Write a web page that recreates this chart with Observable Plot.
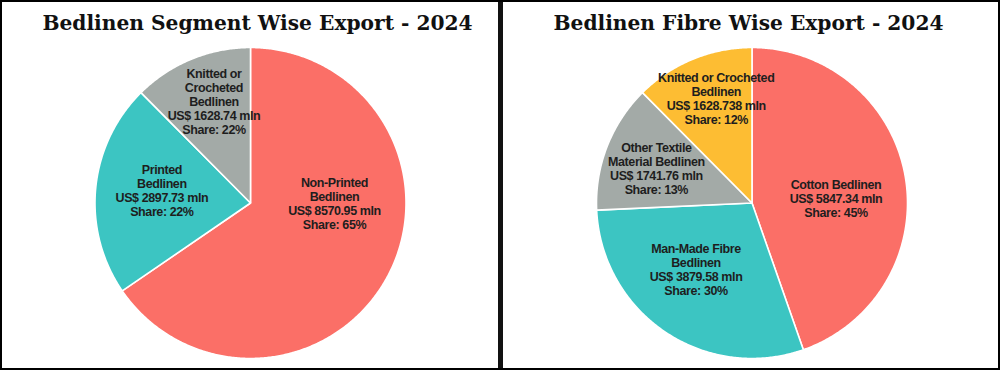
<!DOCTYPE html>
<html>
<head>
<meta charset="utf-8">
<script src="https://cdn.jsdelivr.net/npm/d3@7"></script>
<script src="https://cdn.jsdelivr.net/npm/@observablehq/plot@0.6"></script>
<style>
  html, body { margin: 0; padding: 0; background: #fff; }
  #wrap { position: relative; width: 1000px; height: 370px; box-sizing: border-box; border: 2px solid #000; overflow: hidden; background:#fff; }
  .panel { position: absolute; top: -2px; width: 498px; height: 370px; }
  .title { position: absolute; top: 11px; width: 498px; text-align: center; font-family: "DejaVu Serif", serif; font-weight: bold; font-size: 20.2px; color: #111; white-space: nowrap; }
  #divider { position: absolute; left: 496px; top: -2px; width: 5px; height: 372px; background: #111; }
</style>
</head>
<body>
<div id="wrap">
  <div class="panel" id="left" style="left:-2px"></div>
  <div class="panel" id="right" style="left:500px"></div>
  <div id="divider"></div>
</div>
<script>
// ---- data ----
const segmentTitle = "Bedlinen Segment Wise Export - 2024";
const segmentNames = ["Non-Printed\nBedlinen", "Printed\nBedlinen", "Knitted or\nCrocheted\nBedlinen"];
const segmentValues = [8570.95, 2897.73, 1628.74];
const segmentShares = [65, 22, 22];

const fibreTitle = "Bedlinen Fibre Wise Export - 2024";
const fibreNames = ["Cotton Bedlinen", "Man-Made Fibre\nBedlinen", "Other Textile\nMaterial Bedlinen", "Knitted or Crocheted\nBedlinen"];
const fibreValues = [5847.34, 3879.58, 1741.76, 1628.738];
const fibreShares = [45, 30, 13, 12];

// ---- layout / style ----
const segmentColors = ["#FB6F67", "#3CC5C2", "#A3AAA7"];
const fibreColors = ["#FB6F67", "#3CC5C2", "#A3AAA7", "#FDBD33"];
// label centres in unit-circle coordinates
const segmentLabelPos = [[0.54, -0.006], [-0.57, 0.083], [-0.235, 0.655]];
const fibreLabelPos = [[0.54, 0.03], [-0.36, -0.43], [-0.615, 0.22], [-0.23, 0.67]];

function pieChart(el, title, names, values, shares, colors, labelPos, cx, titleShift) {
  const rows = names.map((n, i) => ({name: n, value: values[i], share: shares[i]}));
  const arcs = d3.pie().sort(null).value(d => d.value)(rows);
  const pts = [];
  for (const a of arcs) {
    pts.push({name: a.data.name, x: 0, y: 0});
    const n = Math.max(2, Math.ceil((a.endAngle - a.startAngle) / (Math.PI / 360)));
    for (let k = 0; k <= n; k++) {
      const t = a.startAngle + (a.endAngle - a.startAngle) * k / n;
      pts.push({name: a.data.name, x: Math.sin(t), y: Math.cos(t)});
    }
  }
  const labels = rows.map((r, i) => ({
    x: labelPos[i][0], y: labelPos[i][1],
    text: `${r.name}\nUS$ ${r.value} mln\nShare: ${r.share}%`
  }));
  const W = 498, H = 370, R = 155.5, cy = 202.5;
  const chart = Plot.plot({
    width: W, height: H,
    marginLeft: cx - R, marginRight: W - cx - R,
    marginTop: cy - R, marginBottom: H - cy - R,
    x: {domain: [-1, 1], axis: null},
    y: {domain: [-1, 1], axis: null},
    color: {domain: names, range: colors},
    style: {background: "transparent", overflow: "visible", letterSpacing: "-0.4px"},
    marks: [
      Plot.line(pts, {x: "x", y: "y", z: "name", fill: "name", stroke: "#ffffff", strokeWidth: 1.6, curve: "linear-closed", strokeLinejoin: "round"}),
      Plot.text(labels, {x: "x", y: "y", text: "text", fontSize: 12.5, fontWeight: "bold", fill: "#1e1e1e",
        lineHeight: 1.12, fontFamily: "'Liberation Sans', Arial, sans-serif"})
    ]
  });
  el.appendChild(chart);
  const t = document.createElement("div");
  t.className = "title";
  t.style.left = titleShift + "px";
  t.textContent = title;
  el.appendChild(t);
}

pieChart(document.getElementById("left"), segmentTitle, segmentNames, segmentValues, segmentShares, segmentColors, segmentLabelPos, 250, 8.5);
pieChart(document.getElementById("right"), fibreTitle, fibreNames, fibreValues, fibreShares, fibreColors, fibreLabelPos, 249.5, -2.5);
</script>
</body>
</html>
